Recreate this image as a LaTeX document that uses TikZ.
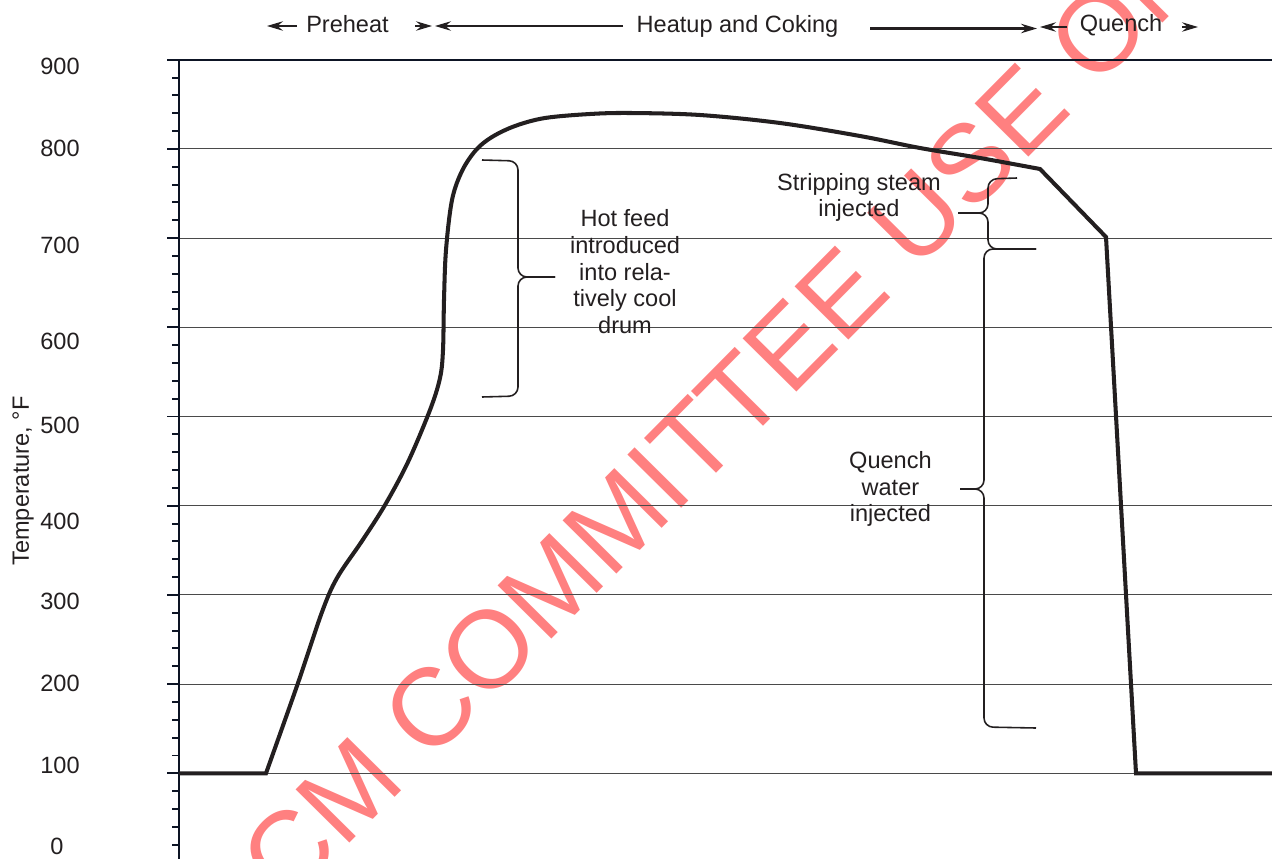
\documentclass[tikz,border=0pt]{standalone}
\usepackage{fontspec}
\setmainfont{Liberation Sans}
\usetikzlibrary{positioning,arrows.meta}

\definecolor{inkdark}{HTML}{231F20}
\definecolor{axisnavy}{HTML}{0D1424}
\definecolor{gridgray}{HTML}{4A4A4A}
\definecolor{stamp}{HTML}{FF8080}

\tikzset{
  lbl/.style={font=\fontsize{13.4pt}{15.1pt}\selectfont, text=inkdark, align=center, inner sep=0pt},
  hdr/.style={font=\fontsize{13.4pt}{15.1pt}\selectfont, text=inkdark, inner sep=0pt},
  wmark/.style={font=\fontsize{62.6pt}{70pt}\selectfont, text=stamp, inner sep=0pt},
  hdrtip/.style={-{Stealth[length=0.32cm, width=0.19cm, inset=0.11cm]}, inkdark},
  bracket/.style={inkdark, line width=0.9pt, rounded corners=0.18cm},
  gridln/.style={gridgray, line width=0.6pt},
  axisln/.style={axisnavy, line width=1.1pt},
  profile/.style={inkdark, line width=2.3pt, line join=miter},
}

\begin{document}
\begin{tikzpicture}[x=0.02cm, y=-0.02cm]
  \useasboundingbox (0,0) rectangle (1272,859);
  \clip (0,0) rectangle (1272,859);

  % watermark
  \node[wmark, rotate=45.3] (stampmark) at (767.5,368) {CM COMMITTEE USE ONLY};

  % grid and axis
  \foreach \t in {100,200,...,800}
    \draw[gridln] (179,{862.5-0.892*\t}) -- (1272,{862.5-0.892*\t});
  \draw[axisnavy, line width=1.3pt] (167,59.7) -- (1272,59.7);
  \draw[axisln] (179.3,59) -- (179.3,870);
  \foreach \t in {0,20,...,880}
    \draw[axisln] (172,{862.5-0.892*\t}) -- (179.3,{862.5-0.892*\t});
  \foreach \t in {0,100,...,800}
    \draw[axisln] (167,{862.5-0.892*\t}) -- (179.3,{862.5-0.892*\t});
  \foreach \t/\lx/\ly in {900/60/66.5, 800/60/148.5, 700/60/245, 600/60/341.5, 500/60/425,
                          400/60/521.5, 300/60/601.5, 200/60/683.5, 100/60/765, 0/57/846}
    \node[hdr] (tlab\t) at (\lx,\ly) {\t};
  \node[hdr, rotate=90] (ytitle) at (23,481) {Temperature, °F};

  % drum temperature
  \draw[profile] (179,773.3) -- (266,773.3) -- plot[smooth, tension=0.55] coordinates {(266,773.3) (298,683) (322,612)
    (337,578) (362,541) (385,505) (408,462) (430,410) (440,378) (443,350) (444,300) (446,250) (452,200) (462,171)
    (476,150) (492,137) (515,126) (545,118) (590,114) (630,113) (700,115) (780,123) (860,136) (920,148) (980,158)
    (1040,169)} -- (1106,237) -- (1136,773.3) -- (1272,773.3);

  % braces
  \coordinate (hf-tip) at (555,277);
  \coordinate (ss-tip) at (958,213);
  \coordinate (qw-tip) at (960,489);
  \draw[bracket] (482,160) -- (518,161) -- (518,277) -- (hf-tip);
  \draw[bracket] (hf-tip) -- (518,277) -- (518,396) -- (482,397);
  \draw[bracket] (1017,178) -- (988,179) -- (988,213) -- (ss-tip);
  \draw[bracket] (ss-tip) -- (988,213) -- (988,249) -- (1036,249);
  \draw[bracket] (1036,249) -- (984,249) -- (984,489) -- (qw-tip);
  \draw[bracket] (qw-tip) -- (984,489) -- (984,727) -- (1036,728);

  \node[lbl] (hotfeed) at (625,271.6) {Hot feed\\introduced\\into rela-\\tively cool\\drum};
  \node[lbl] (stripping) at (859,197.4) {Stripping steam\\injected};
  \node[lbl, left=0.56cm of qw-tip] (quenchwater) {Quench\\water\\injected};

  % phases
  \node[hdr, anchor=base] (preheat) at (347.5,32) {Preheat};
  \node[hdr, anchor=base] (heatup) at (737.5,32) {Heatup and Coking};
  \node[hdr, anchor=base] (quench) at (1121,31) {Quench};
  \coordinate (ph-a) at (297,26);   \coordinate (ph-b) at (267,26);
  \coordinate (ph-c) at (415,26);   \coordinate (ph-d) at (432,26);
  \coordinate (hu-a) at (623,26);   \coordinate (hu-b) at (435,26);
  \coordinate (hu-c) at (870,28.5); \coordinate (hu-d) at (1037,28.5);
  \coordinate (qu-a) at (1067,27);  \coordinate (qu-b) at (1040,27);
  \coordinate (qu-c) at (1182,27);  \coordinate (qu-d) at (1198,27);
  \draw[hdrtip, line width=0.6pt] (ph-a) -- (ph-b);
  \draw[hdrtip, line width=0.6pt] (ph-c) -- (ph-d);
  \draw[hdrtip, line width=0.6pt] (hu-a) -- (hu-b);
  \draw[hdrtip, line width=1.3pt] (hu-c) -- (hu-d);
  \draw[hdrtip, line width=0.6pt] (qu-a) -- (qu-b);
  \draw[hdrtip, line width=0.6pt] (qu-c) -- (qu-d);
\end{tikzpicture}
\end{document}
